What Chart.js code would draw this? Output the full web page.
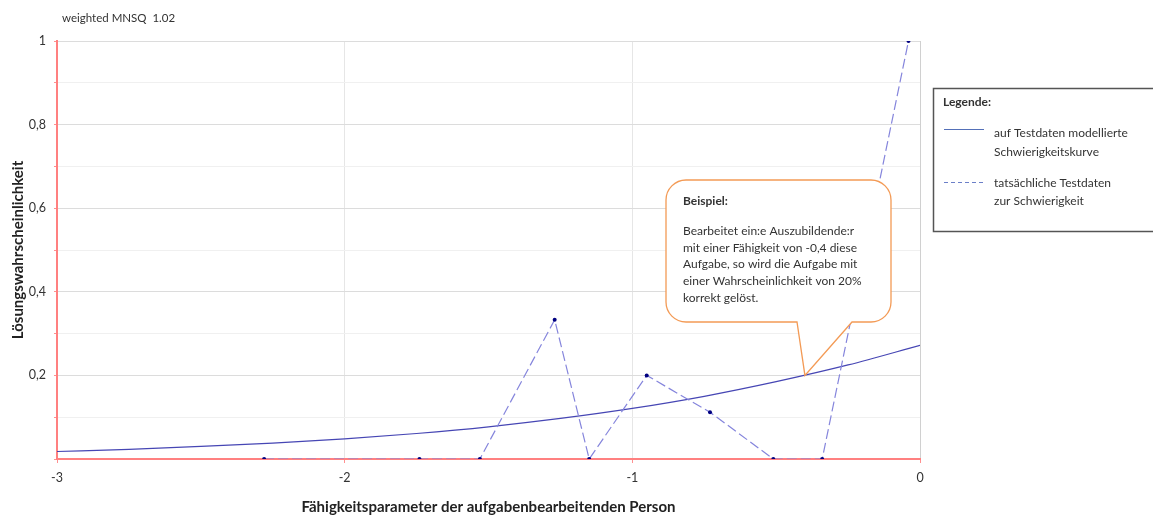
<!DOCTYPE html>
<html>
<head>
<meta charset="utf-8">
<script src="https://cdn.jsdelivr.net/npm/chart.js@4/dist/chart.umd.min.js"></script>
<style>
html,body{margin:0;padding:0;background:#fff;}
#wrap{position:relative;width:1153px;height:516px;}
</style>
</head>
<body>
<div id="wrap"><canvas id="c" width="1153" height="516"></canvas></div>
<script>
// Modelled curve
const curveX = [-3, -2.75, -2.5, -2.25, -2, -1.75, -1.5, -1.25, -1, -0.75, -0.5, -0.25, 0];
const curveY = [0.018, 0.023, 0.030, 0.038, 0.048, 0.061, 0.077, 0.097, 0.121, 0.150, 0.185, 0.225, 0.272];
// Observed test data
const obsX = [-2.28, -1.74, -1.53, -1.27, -1.15, -0.95, -0.73, -0.51, -0.34, -0.04];
const obsY = [0, 0, 0, 0.333, 0, 0.20, 0.112, 0, 0, 1];
// Axis ticks
const xTicks = [-3, -2, -1, 0];
const yTickLabels = {0.2: '0,2', 0.4: '0,4', 0.6: '0,6', 0.8: '0,8', 1: '1'};
// Texts
const topNote = 'weighted MNSQ  1.02';
const xTitle = 'Fähigkeitsparameter der aufgabenbearbeitenden Person';
const yTitle = 'Lösungswahrscheinlichkeit';
const legendTitle = 'Legende:';
const legendItems = [
  ['auf Testdaten modellierte', 'Schwierigkeitskurve'],
  ['tatsächliche Testdaten', 'zur Schwierigkeit']
];
const calloutTitle = 'Beispiel:';
const calloutLines = [
  'Bearbeitet ein:e Auszubildende:r',
  'mit einer Fähigkeit von -0,4 diese',
  'Aufgabe, so wird die Aufgabe mit',
  'einer Wahrscheinlichkeit von 20%',
  'korrekt gelöst.'
];
const calloutPoint = {x: -0.4, y: 0.2};

const FONT = 'Lato, "Open Sans", sans-serif';
const TXT = '#333333';

const extras = {
  id: 'extras',
  afterDatasetsDraw(chart) {
    const ctx = chart.ctx;
    const xs = chart.scales.x, ys = chart.scales.y;
    ctx.save();
    // top note
    ctx.fillStyle = TXT;
    ctx.font = '11.5px ' + FONT;
    ctx.textBaseline = 'middle';
    ctx.textAlign = 'left';
    ctx.fillText(topNote, 62, 18);

    // callout
    const L = 666, T = 180, R = 891, B = 322, r = 20;
    const tipX = xs.getPixelForValue(calloutPoint.x);
    const tipY = ys.getPixelForValue(calloutPoint.y);
    ctx.beginPath();
    ctx.moveTo(L + r, T);
    ctx.lineTo(R - r, T);
    ctx.arcTo(R, T, R, T + r, r);
    ctx.lineTo(R, B - r);
    ctx.arcTo(R, B, R - r, B, r);
    ctx.lineTo(852, B);
    ctx.lineTo(tipX, tipY);
    ctx.lineTo(797, B);
    ctx.lineTo(L + r, B);
    ctx.arcTo(L, B, L, B - r, r);
    ctx.lineTo(L, T + r);
    ctx.arcTo(L, T, L + r, T, r);
    ctx.closePath();
    ctx.fillStyle = '#ffffff';
    ctx.fill();
    ctx.strokeStyle = '#f39a55';
    ctx.lineWidth = 1.3;
    ctx.stroke();
    ctx.fillStyle = TXT;
    ctx.font = 'bold 12px ' + FONT;
    ctx.fillText(calloutTitle, 683, 201);
    ctx.font = '12px ' + FONT;
    calloutLines.forEach((t, i) => ctx.fillText(t, 683, 231 + i * 16.7));

    // legend box
    ctx.strokeStyle = '#555555';
    ctx.lineWidth = 1.5;
    ctx.strokeRect(933.5, 88.5, 240, 143);
    ctx.fillStyle = TXT;
    ctx.font = 'bold 12px ' + FONT;
    ctx.fillText(legendTitle, 943, 102);
    ctx.font = '12px ' + FONT;
    ctx.fillText(legendItems[0][0], 994, 133);
    ctx.fillText(legendItems[0][1], 994, 152);
    ctx.fillText(legendItems[1][0], 994, 183);
    ctx.fillText(legendItems[1][1], 994, 201);
    ctx.beginPath();
    ctx.strokeStyle = '#5470b8';
    ctx.lineWidth = 1.2;
    ctx.moveTo(944, 129.5); ctx.lineTo(984, 129.5);
    ctx.stroke();
    ctx.beginPath();
    ctx.setLineDash([4, 3]);
    ctx.strokeStyle = '#6b7fc8';
    ctx.moveTo(944, 182.5); ctx.lineTo(984, 182.5);
    ctx.stroke();
    ctx.restore();
  }
};

new Chart(document.getElementById('c'), {
  type: 'scatter',
  data: {
    datasets: [
      {
        label: 'auf Testdaten modellierte Schwierigkeitskurve',
        data: curveX.map((x, i) => ({x, y: curveY[i]})),
        showLine: true,
        borderColor: '#4646b4',
        borderWidth: 1.2,
        pointRadius: 0,
        cubicInterpolationMode: 'monotone',
        order: 2
      },
      {
        label: 'tatsächliche Testdaten zur Schwierigkeit',
        data: obsX.map((x, i) => ({x, y: obsY[i]})),
        showLine: true,
        borderColor: '#8585dc',
        borderWidth: 1.2,
        borderDash: [10, 4],
        pointRadius: 2,
        pointBackgroundColor: '#000080',
        pointBorderColor: '#000080',
        pointBorderWidth: 0,
        tension: 0,
        order: 1
      }
    ]
  },
  options: {
    responsive: false,
    animation: false,
    devicePixelRatio: 1,
    layout: {padding: {top: 41, right: 233, bottom: 0, left: 0}},
    plugins: {
      legend: {display: false},
      tooltip: {enabled: false},
      title: {display: false}
    },
    scales: {
      x: {
        type: 'linear',
        min: -3, max: 0,
        afterFit(s) { s.height = 57; },
        afterBuildTicks(s) { s.ticks = xTicks.map(v => ({value: v})); },
        ticks: {
          color: TXT,
          font: {size: 12.5, family: FONT},
          padding: 7,
          callback: v => String(v).replace('.', ',')
        },
        grid: {
          color: ctx => ctx.tick && ctx.tick.value === 0 ? '#d0d0d0' : '#e6e6e6',
          tickColor: '#ff9090',
          tickLength: 4,
          lineWidth: 1
        },
        border: {color: '#ff8080', width: 2},
        title: {
          display: true,
          text: xTitle,
          color: '#222',
          font: {size: 15, weight: 'bold', family: FONT},
          padding: {top: 0, bottom: 0}
        }
      },
      y: {
        type: 'linear',
        min: 0, max: 1,
        afterFit(s) { s.width = 57; },
        ticks: {
          stepSize: 0.1,
          autoSkip: false,
          color: TXT,
          font: {size: 12.5, family: FONT},
          padding: 8,
          callback: v => {
            const k = Math.round(v * 10) / 10;
            return yTickLabels[k] || '';
          }
        },
        grid: {
          color: ctx => {
            const v = Math.round((ctx.tick ? ctx.tick.value : 0) * 10);
            return v % 2 === 0 ? '#dcdcdc' : '#f0f0f0';
          },
          tickColor: '#ff9090',
          tickLength: 3,
          lineWidth: 1
        },
        border: {color: '#ff8080', width: 2},
        title: {
          display: true,
          text: yTitle,
          color: '#222',
          font: {size: 15, weight: 'bold', family: FONT},
          padding: {top: 9, bottom: 0}
        }
      }
    }
  },
  plugins: [extras]
});
</script>
</body>
</html>
